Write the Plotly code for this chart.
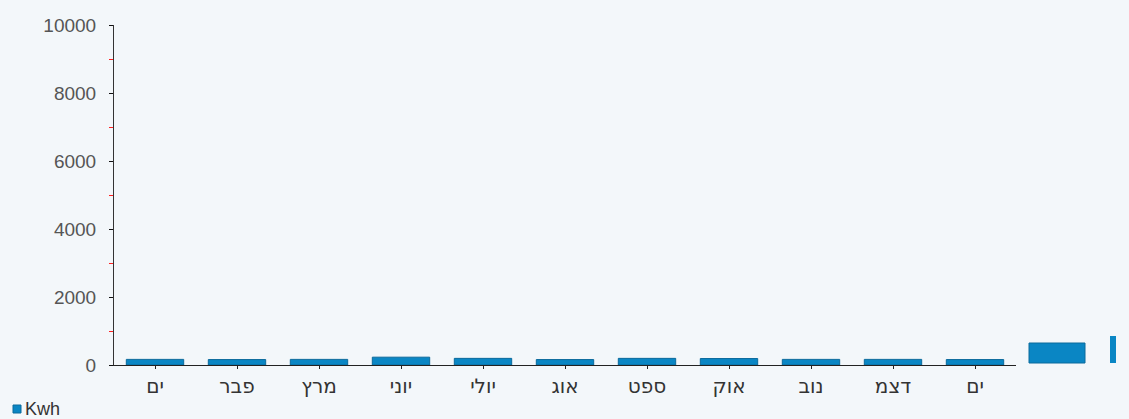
import plotly.graph_objects as go

months = ["ים", "פבר", "מרץ", "יוני", "יולי", "אוג", "ספט", "אוק", "נוב", "דצמ", "ים"]
kwh = [165, 160, 165, 230, 195, 160, 195, 190, 165, 165, 160]
series_name = "Kwh"

W, H = 1129, 419
L, R, T, B = 114, 113, 25, 54
pw, ph = W - L - R, H - T - B


def px(x):
    return (x - L) / pw


def py(y):
    return (H - B - y) / ph


cats = list(range(len(months)))
bar_color = "#0a86c4"

fig = go.Figure()
fig.add_trace(go.Bar(
    x=cats, y=kwh, name=series_name,
    marker=dict(color=bar_color, line=dict(color="#0b6a9c", width=1)),
    width=0.7,
))

fig.update_layout(
    width=W, height=H,
    margin=dict(l=L, r=R, t=T, b=B, autoexpand=False),
    paper_bgcolor="#f3f7fa",
    plot_bgcolor="rgba(0,0,0,0)",
    font=dict(family="DejaVu Sans", color="#444"),
    showlegend=False,
)

fig.update_xaxes(
    range=[-0.5, len(months) - 0.5],
    tickmode="array", tickvals=cats, ticktext=months,
    showline=True, linecolor="#222", linewidth=1,
    ticks="outside", ticklen=3, tickcolor="#222",
    tickfont=dict(size=20, color="#333", family="DejaVu Sans"),
    showgrid=False, zeroline=False, fixedrange=True, automargin=False,
)
fig.update_yaxes(
    range=[0, 10000], dtick=2000, tickformat="d",
    showline=True, linecolor="#333", linewidth=1,
    ticks="outside", ticklen=4, tickcolor="#111",
    minor=dict(dtick=1000, ticks="outside", ticklen=4, tickcolor="#ff2020", showgrid=False),
    ticklabelstandoff=9,
    tickfont=dict(size=19, color="#555", family="Liberation Sans"),
    showgrid=False, zeroline=False, automargin=False,
)

# legend drawn by hand to match its tight layout
fig.add_shape(type="rect", xref="paper", yref="paper",
              x0=px(13), x1=px(21), y0=py(413), y1=py(405),
              fillcolor=bar_color, line=dict(color="#0b6a9c", width=1))
fig.add_annotation(text=series_name, xref="paper", yref="paper",
                   x=px(23), y=py(409), xanchor="left", yanchor="middle",
                   showarrow=False, font=dict(size=18, color="#333", family="Liberation Sans"))

# stray blue blocks at the right edge
fig.add_shape(type="rect", xref="paper", yref="paper",
              x0=px(1029), x1=px(1085), y0=py(363), y1=py(343),
              fillcolor=bar_color, line=dict(color="#0b6a9c", width=1))
fig.add_shape(type="rect", xref="paper", yref="paper",
              x0=px(1110), x1=px(1116), y0=py(363), y1=py(336),
              fillcolor=bar_color, line=dict(width=0))

fig.write_html("out.html", config={"displayModeBar": False},
               post_script="document.body.style.margin='0';document.body.style.overflow='hidden';")
